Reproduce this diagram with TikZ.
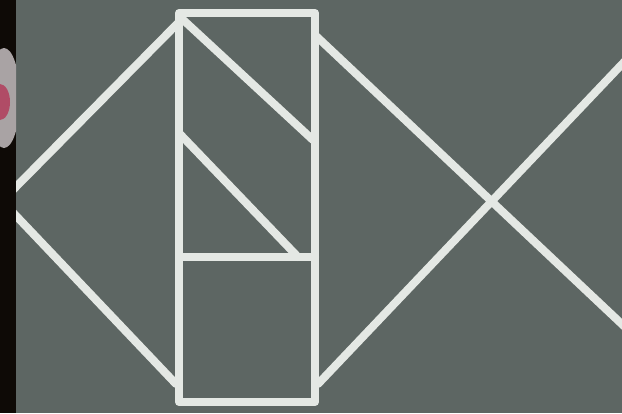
\documentclass[tikz,border=0pt]{standalone}
\usepackage{tikz}
\usetikzlibrary{positioning,calc}

\definecolor{board}{HTML}{5D6663}
\definecolor{chalk}{HTML}{E4E8E4}
\definecolor{strip}{HTML}{0E0A06}
\definecolor{blob}{HTML}{A9A3A4}
\definecolor{blobred}{HTML}{B04C66}

\begin{document}
\begin{tikzpicture}[x=1pt, y=-1pt, chalk/.style={draw=chalk, line width=8pt, line cap=round, line join=round}]

% board
\fill[board] (0,0) rectangle (622,413);
\useasboundingbox (0,0) rectangle (622,413);

% tall box
\coordinate (tl) at (179,13);
\coordinate (tr) at (315,13);
\coordinate (br) at (315,402);
\coordinate (bl) at (179,402);
\draw[chalk] (tl) -- (tr) -- (br) -- (bl) -- cycle;

% inside the box
\coordinate (d1a) at (179,16);
\coordinate (d1b) at (313,140);
\coordinate (d2a) at (179,133);
\coordinate (d2b) at (298,257);
\coordinate (hl) at (179,257);
\coordinate (hr) at (315,257);
\draw[chalk] (d1a) -- (d1b);
\draw[chalk] (d2a) -- (d2b);
\draw[chalk] (hl) -- (hr);

% left wedge
\coordinate (lu) at (179,22);
\coordinate (apex) at (2,201);
\coordinate (ld) at (176,384);
\draw[chalk] (lu) -- (apex) -- (ld);

% right cross
\coordinate (xa) at (315,35);
\coordinate (xb) at (626,328);
\coordinate (xc) at (626,60);
\coordinate (xd) at (318,384);
\draw[chalk] (xa) -- (xb);
\draw[chalk] (xc) -- (xd);

% dark edge on the left
\fill[strip] (0,0) rectangle (16,413);
\begin{scope}
\clip (0,0) rectangle (16,413);
\fill[blob] (4,98) ellipse (16 and 50);
\fill[blobred] (0,102) ellipse (10 and 18);
\end{scope}
\end{tikzpicture}
\end{document}
